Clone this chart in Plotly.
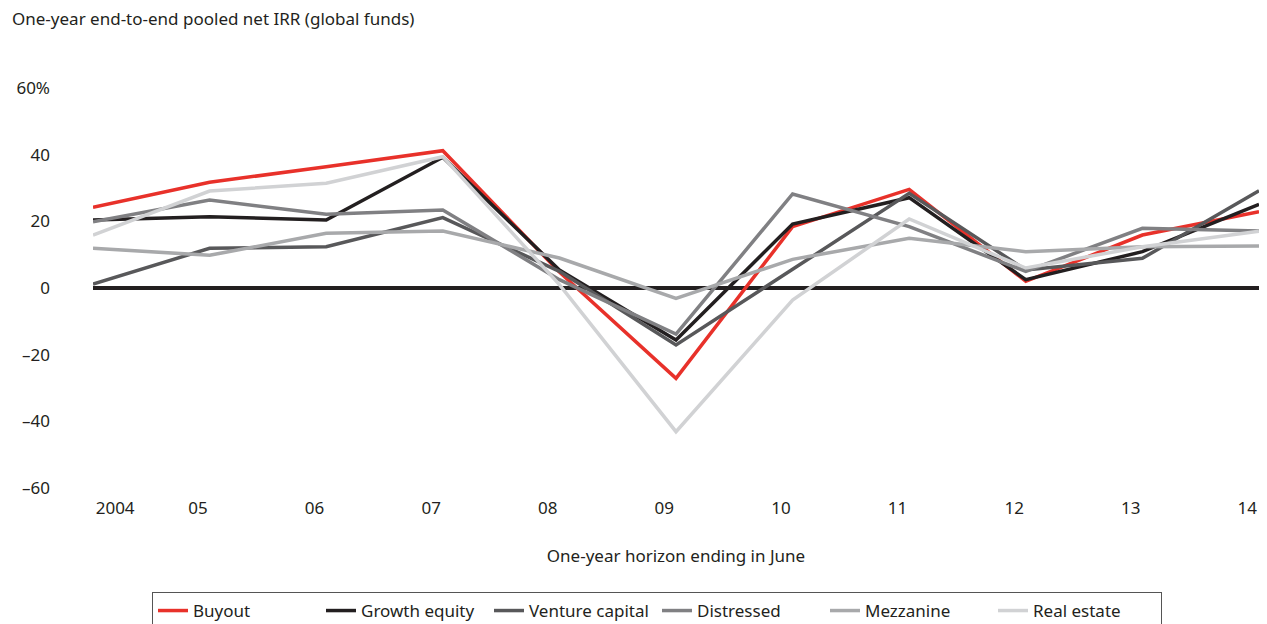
import plotly.graph_objects as go

# one-year horizon ending in June
years = ['2004', '05', '06', '07', '08', '09', '10', '11', '12', '13', '14']

buyout = [24.2, 31.7, 36.4, 41.2, 4.8, -27.1, 18.4, 29.6, 2.0, 15.9, 22.9]
growth_equity = [20.4, 21.4, 20.4, 39.2, 5.4, -15.6, 19.2, 27.1, 2.5, 10.9, 25.1]
venture_capital = [1.2, 11.9, 12.4, 21.1, 5.0, -17.1, 5.6, 28.4, 5.4, 8.9, 29.2]
distressed = [19.9, 26.4, 22.1, 23.4, 2.5, -13.8, 28.2, 18.4, 5.0, 17.9, 17.1]
mezzanine = [11.9, 9.8, 16.4, 17.1, 9.0, -3.1, 8.6, 14.9, 10.9, 12.4, 12.6]
real_estate = [15.9, 29.1, 31.4, 39.4, 1.0, -43.1, -3.6, 20.7, 6.0, 12.4, 17.0]

y_ticks = [60, 40, 20, 0, -20, -40, -60]
y_labels = ['60%', '40', '20', '0', '\u201320', '\u201340', '\u201360']

series = [
    ('Buyout', buyout, '#e8312a'),
    ('Growth equity', growth_equity, '#231f20'),
    ('Venture capital', venture_capital, '#58585a'),
    ('Distressed', distressed, '#808083'),
    ('Mezzanine', mezzanine, '#a8a9ab'),
    ('Real estate', real_estate, '#d1d2d4'),
]

fig = go.Figure()
for name, vals, colour in series:
    fig.add_trace(go.Scatter(
        x=years, y=vals, mode='lines', name=name,
        line=dict(color=colour, width=3.5),
    ))

# labels sit a little left of each year's point, except the first one
label_pos = [i - 0.1 for i in range(len(years))]
label_pos[0] = 0.19

# page body has an 8px margin, so the figure is sized to fit inside it
W, H = 1259, 616
font = 'Noto Sans'
fig.update_layout(
    width=W, height=H,
    paper_bgcolor='white', plot_bgcolor='white',
    font=dict(family=font, size=17, color='#231f20'),
    margin=dict(l=85, r=8, t=80, b=136, autoexpand=False),
    title=dict(
        text='One-year end-to-end pooled net IRR (global funds)',
        xref='container', yref='container', x=4 / W, xanchor='left',
        y=1 - 11 / H, yanchor='middle',
        font=dict(family=font, size=17, color='#231f20'),
    ),
    legend=dict(
        orientation='h', xref='container', yref='container',
        x=649 / W, xanchor='center', y=1 - 584 / H, yanchor='top',
        bordercolor='#555555', borderwidth=1, entrywidth=123,
        font=dict(family=font, size=17, color='#231f20'),
    ),
)
fig.update_xaxes(
    type='category', range=[0, 10], showgrid=False, showline=False,
    ticks='', tickfont=dict(size=17), automargin=False,
    tickvals=label_pos, ticktext=years, ticklabelstandoff=8,
    title=dict(text='One-year horizon ending in June', standoff=32,
               font=dict(size=17)),
)
fig.update_yaxes(
    range=[-60, 60], tickvals=y_ticks, ticktext=y_labels,
    showgrid=False, showline=False, ticks='', automargin=False,
    zeroline=True, zerolinecolor='#231f20', zerolinewidth=4,
    ticklabelstandoff=42,
)

fig.write_html('out.html')
